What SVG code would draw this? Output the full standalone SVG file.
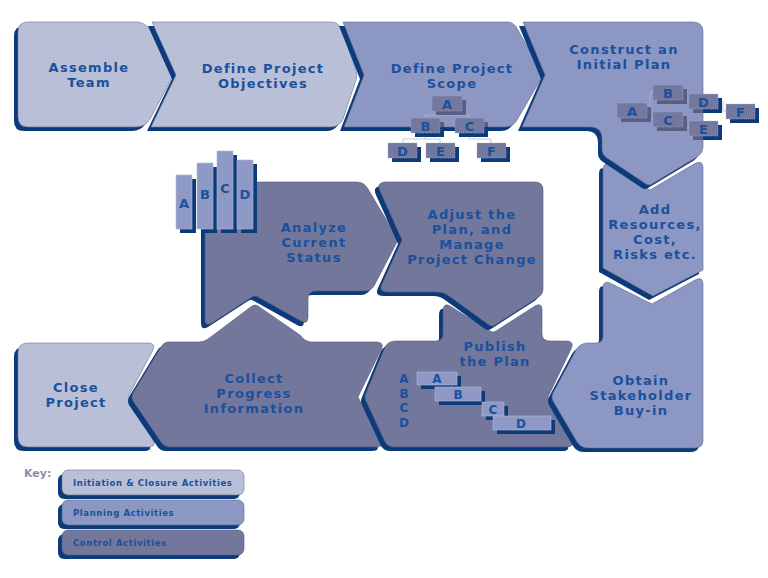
<svg xmlns="http://www.w3.org/2000/svg" xmlns:xlink="http://www.w3.org/1999/xlink" width="768" height="578" viewBox="0 0 768 578">
<style>
.sh{fill:#0c3b7b}
.init{fill:url(#dots);stroke:#6d7290;stroke-width:0.6}
.plan{fill:#8c97c3;stroke:#5f6488;stroke-width:0.6}
.ctrl{fill:#72779b;stroke:#555a7c;stroke-width:0.6}
.t{font-family:"DejaVu Sans","Liberation Sans",sans-serif;font-weight:bold;font-size:13px;fill:#1b509c;text-anchor:middle;letter-spacing:1.3px}
.bl{font-family:"DejaVu Sans","Liberation Sans",sans-serif;font-weight:bold;font-size:13px;fill:#1b509c;text-anchor:middle}
.gl{font-family:"DejaVu Sans","Liberation Sans",sans-serif;font-weight:bold;font-size:12px;fill:#1b509c;text-anchor:middle}
.box{fill:#73789f;stroke:#a2a7c5;stroke-width:0.7;stroke-dasharray:1 1}
.bsh{fill:#0c3b7b}
.ish{fill:#5a5e82}
.bar{fill:#8e99c5;stroke:#b4bad6;stroke-width:0.6}
.con{stroke:#b3b8d2;stroke-width:0.8;fill:none}
.k{font-family:"DejaVu Sans","Liberation Sans",sans-serif;font-weight:bold;font-size:8.5px;fill:#1b509c;letter-spacing:0.6px}
.key{font-family:"DejaVu Sans","Liberation Sans",sans-serif;font-weight:bold;font-size:11px;fill:#8a90aa}
</style>
<defs>
<pattern id="dots" width="4" height="4" patternUnits="userSpaceOnUse">
<rect width="4" height="4" fill="#bac0d8"/>
<rect x="1" y="1" width="1" height="1" fill="#aeb3ce"/>
</pattern>
<path id="p-assemble" d="M28,22H136Q145,22 150,30L171,70Q173,75 171,80L150,119Q145,127 136,127H28Q18,127 18,117V32Q18,22 28,22Z"/>
<path id="p-objectives" d="M152,22H331Q338,22 342,29L356,70Q358,75 356,80L343,119Q339,127 331,127H151L176,75Z"/>
<path id="p-scope" d="M343,22H508Q514,22 518,30L541,71Q543,75 541,79L517,120Q513,127 505,127H344L364,75Z"/>
<path id="p-construct" d="M523,22H693Q703,22 703,32V147Q703,153 697,157L652,184Q649,186 646,184L607,158Q602,155 602,149V139Q602,127 590,127H522L545,75Z"/>
<path id="p-add" d="M603,170Q603,161 611,166L650,190L694,164Q703,159 703,168V270L653,296L603,268Z"/>
<path id="p-obtain" d="M603,288Q603,280 610,283L652,304L695,280Q703,276 703,284V440Q703,448 695,448H588Q581,448 577,442L553,401Q551,397 553,393L576,350Q580,343 588,343H596Q603,343 603,336Z"/>
<path id="p-adjust" d="M386,182H535Q543,182 543,190V289Q543,295 537,298L495,325Q492,327 489,325L449,296Q444,292 437,292H388Q378,292 382,284L402,240L380,191Q376,182 386,182Z"/>
<path id="p-analyze" d="M215,182H357Q364,182 368,189L396,236Q398,240 396,244L374,286Q371,291 364,291H316Q308,291 308,299V317Q308,325 301,321L258,297Q255,295 252,297L212,323Q205,327 205,319V192Q205,182 215,182Z"/>
<path id="p-collect" d="M168,342H198Q204,342 208,339L252,306Q255,304 258,306L300,335Q305,342 312,342H376Q385,342 381,350L358,397L381,441Q384,447 376,447H170Q164,447 161,442L133,401Q131,397 133,393L161,347Q164,342 168,342Z"/>
<path id="p-publish" d="M450,306L490,331Q493,333 496,331L535,306Q542,302 542,310V334Q542,341 550,341H566Q575,341 571,349L548,397L571,440Q575,447 566,447H394Q388,447 385,442L366,401Q364,397 366,393L385,347Q388,341 396,341H436Q443,341 443,334V312Q443,302 450,306Z"/>
<path id="p-close" d="M28,343H148Q156,343 153,350L128,397L153,440Q157,447 148,447H28Q18,447 18,437V353Q18,343 28,343Z"/>
<clipPath id="cScope"><use xlink:href="#p-scope"/></clipPath>
<clipPath id="cConstruct"><use xlink:href="#p-construct"/></clipPath>
</defs>

<g id="assemble-team">
<use xlink:href="#p-assemble" class="sh" transform="translate(-4,4)"/>
<use xlink:href="#p-assemble" class="init"/>
<text class="t"><tspan x="89" y="72">Assemble</tspan><tspan x="89" y="87">Team</tspan></text>
</g>
<g id="define-project-objectives">
<use xlink:href="#p-objectives" class="sh" transform="translate(-4,4)"/>
<use xlink:href="#p-objectives" class="init"/>
<text class="t"><tspan x="263" y="73">Define Project</tspan><tspan x="263" y="88">Objectives</tspan></text>
</g>
<g id="define-project-scope">
<use xlink:href="#p-scope" class="sh" transform="translate(-4,4)"/>
<use xlink:href="#p-scope" class="plan"/>
<text class="t"><tspan x="452" y="73">Define Project</tspan><tspan x="452" y="88">Scope</tspan></text>
</g>
<g id="close-project">
<use xlink:href="#p-close" class="sh" transform="translate(-4,4)"/>
<use xlink:href="#p-close" class="init"/>
<text class="t"><tspan x="76" y="392">Close</tspan><tspan x="76" y="407">Project</tspan></text>
</g>
<g id="collect-progress-information">
<use xlink:href="#p-collect" class="sh" transform="translate(-4,4)"/>
<use xlink:href="#p-collect" class="ctrl"/>
<text class="t"><tspan x="254" y="383">Collect</tspan><tspan x="254" y="398">Progress</tspan><tspan x="254" y="413">Information</tspan></text>
</g>
<g id="analyze-current-status">
<use xlink:href="#p-analyze" class="sh" transform="translate(-4,4)"/>
<use xlink:href="#p-analyze" class="ctrl"/>
<text class="t"><tspan x="314" y="231.5">Analyze</tspan><tspan x="314" y="246.5">Current</tspan><tspan x="314" y="261.5">Status</tspan></text>
</g>
<g id="publish-the-plan">
<use xlink:href="#p-publish" class="sh" transform="translate(-4,4)"/>
<use xlink:href="#p-publish" class="ctrl"/>
<text class="t"><tspan x="495" y="351">Publish</tspan><tspan x="495" y="366">the Plan</tspan></text>
<text class="gl"><tspan x="404" y="383">A</tspan><tspan x="404" y="397.5">B</tspan><tspan x="404" y="412">C</tspan><tspan x="404" y="426.5">D</tspan></text>
</g>
<g id="adjust-the-plan">
<use xlink:href="#p-adjust" class="sh" transform="translate(-4,4)"/>
<use xlink:href="#p-adjust" class="ctrl"/>
<text class="t"><tspan x="472" y="219">Adjust the</tspan><tspan x="472" y="234">Plan, and</tspan><tspan x="472" y="249">Manage</tspan><tspan x="472" y="264">Project Change</tspan></text>
</g>
<g id="obtain-stakeholder-buy-in">
<use xlink:href="#p-obtain" class="sh" transform="translate(-4,4)"/>
<use xlink:href="#p-obtain" class="plan"/>
<text class="t"><tspan x="641" y="385">Obtain</tspan><tspan x="641" y="400">Stakeholder</tspan><tspan x="641" y="415">Buy-in</tspan></text>
</g>
<g id="add-resources">
<use xlink:href="#p-add" class="sh" transform="translate(-4,4)"/>
<use xlink:href="#p-add" class="plan"/>
<text class="t"><tspan x="655" y="214">Add</tspan><tspan x="655" y="229">Resources,</tspan><tspan x="655" y="244">Cost,</tspan><tspan x="655" y="259">Risks etc.</tspan></text>
</g>
<g id="construct-initial-plan">
<use xlink:href="#p-construct" class="sh" transform="translate(-4,4)"/>
<use xlink:href="#p-construct" class="plan"/>
<text class="t"><tspan x="624" y="54">Construct an</tspan><tspan x="624" y="69">Initial Plan</tspan></text>
</g>

<g id="connectors">
<path class="con" d="M447,111V115M425,118V115H469V118"/>
<path class="con" d="M425,133V139M403,143V139H440V143M469,133V139H491V143"/>
<path class="con" d="M647,110H650M653,92H650V119H653"/>
<path class="con" d="M683,92H686V101H689M683,119H686V128H689"/>
<path class="con" d="M718,102H723V111H726"/>
</g>

<g id="scope-a"><rect class="bsh" x="436" y="100" width="30" height="15"/><rect class="ish" x="436" y="100" width="30" height="15" clip-path="url(#cScope)"/><rect class="box" x="432" y="96" width="30" height="15"/><text class="bl" x="447" y="108.5">A</text></g>
<g id="scope-b"><rect class="bsh" x="415" y="122" width="29" height="15"/><rect class="ish" x="415" y="122" width="29" height="15" clip-path="url(#cScope)"/><rect class="box" x="411" y="118" width="29" height="15"/><text class="bl" x="425.5" y="130.5">B</text></g>
<g id="scope-c"><rect class="bsh" x="459" y="122" width="29" height="15"/><rect class="ish" x="459" y="122" width="29" height="15" clip-path="url(#cScope)"/><rect class="box" x="455" y="118" width="29" height="15"/><text class="bl" x="469.5" y="130.5">C</text></g>
<g id="scope-d"><rect class="bsh" x="392" y="147" width="29" height="15"/><rect class="box" x="388" y="143" width="29" height="15"/><text class="bl" x="402.5" y="155.5">D</text></g>
<g id="scope-e"><rect class="bsh" x="430" y="147" width="29" height="15"/><rect class="box" x="426" y="143" width="29" height="15"/><text class="bl" x="440.5" y="155.5">E</text></g>
<g id="scope-f"><rect class="bsh" x="481" y="147" width="29" height="15"/><rect class="box" x="477" y="143" width="29" height="15"/><text class="bl" x="491.5" y="155.5">F</text></g>

<g id="plan-a"><rect class="bsh" x="621" y="107" width="30" height="15"/><rect class="ish" x="621" y="107" width="30" height="15" clip-path="url(#cConstruct)"/><rect class="box" x="617" y="103" width="30" height="15"/><text class="bl" x="632" y="115.5">A</text></g>
<g id="plan-b"><rect class="bsh" x="657" y="89" width="30" height="15"/><rect class="ish" x="657" y="89" width="30" height="15" clip-path="url(#cConstruct)"/><rect class="box" x="653" y="85" width="30" height="15"/><text class="bl" x="668" y="97.5">B</text></g>
<g id="plan-c"><rect class="bsh" x="657" y="116" width="30" height="15"/><rect class="ish" x="657" y="116" width="30" height="15" clip-path="url(#cConstruct)"/><rect class="box" x="653" y="112" width="30" height="15"/><text class="bl" x="668" y="124.5">C</text></g>
<g id="plan-d"><rect class="bsh" x="693" y="98" width="29" height="15"/><rect class="ish" x="693" y="98" width="29" height="15" clip-path="url(#cConstruct)"/><rect class="box" x="689" y="94" width="29" height="15"/><text class="bl" x="703.5" y="106.5">D</text></g>
<g id="plan-e"><rect class="bsh" x="693" y="125" width="29" height="15"/><rect class="ish" x="693" y="125" width="29" height="15" clip-path="url(#cConstruct)"/><rect class="box" x="689" y="121" width="29" height="15"/><text class="bl" x="703.5" y="133.5">E</text></g>
<g id="plan-f"><rect class="bsh" x="730" y="108" width="29" height="15"/><rect class="box" x="726" y="104" width="29" height="15"/><text class="bl" x="740.5" y="116.5">F</text></g>

<g id="status-bars">
<rect class="bsh" x="180" y="179" width="16" height="54"/><rect class="bar" x="176" y="175" width="16" height="54"/>
<rect class="bsh" x="201" y="167" width="16" height="66"/><rect class="bar" x="197" y="163" width="16" height="66"/>
<rect class="bsh" x="221" y="155" width="16" height="78"/><rect class="bar" x="217" y="151" width="16" height="78"/>
<rect class="bsh" x="241" y="164" width="16" height="69"/><rect class="bar" x="237" y="160" width="16" height="69"/>
<text class="bl" x="184" y="208">A</text><text class="bl" x="205" y="199">B</text><text class="bl" x="225" y="193">C</text><text class="bl" x="245" y="199">D</text>
</g>

<g id="publish-bars">
<rect class="bsh" x="421" y="376" width="40" height="13"/><rect class="bar" x="417" y="372" width="40" height="13"/><text class="gl" x="437" y="383">A</text>
<rect class="bsh" x="439" y="391" width="46" height="14"/><rect class="bar" x="435" y="387" width="46" height="14"/><text class="gl" x="458" y="398.5">B</text>
<rect class="bsh" x="486" y="406" width="22" height="14"/><rect class="bar" x="482" y="402" width="22" height="14"/><text class="gl" x="493" y="413.5">C</text>
<rect class="bsh" x="497" y="420" width="58" height="14"/><rect class="bar" x="493" y="416" width="58" height="14"/><text class="gl" x="521" y="427.5">D</text>
</g>

<g id="key">
<text class="key" x="24" y="477">Key:</text>
<g id="key-initiation"><rect class="sh" x="58" y="474" width="182" height="25" rx="6"/><rect x="62" y="470" width="182" height="25" rx="6" class="init"/><text class="k" x="73" y="486">Initiation &amp; Closure Activities</text></g>
<g id="key-planning"><rect class="sh" x="58" y="504" width="182" height="25" rx="6"/><rect x="62" y="500" width="182" height="25" rx="6" class="plan"/><text class="k" x="73" y="516">Planning Activities</text></g>
<g id="key-control"><rect class="sh" x="58" y="534" width="182" height="25" rx="6"/><rect x="62" y="530" width="182" height="25" rx="6" class="ctrl"/><text class="k" x="73" y="546">Control Activities</text></g>
</g>
</svg>
